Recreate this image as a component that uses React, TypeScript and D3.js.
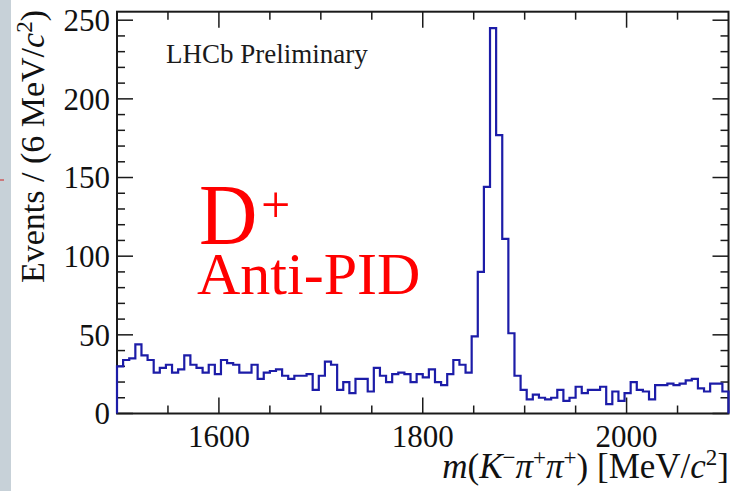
import React from "react";
import * as d3 from "d3";

// 100 bins of 6 MeV/c^2 between 1500 and 2100
const binLow = 1500;
const binWidth = 6;
const counts = [
  30, 34, 35, 44, 37, 34, 26, 29, 31, 26,
  28, 37, 31, 29, 26, 31, 25, 34, 32, 31,
  26, 26, 31, 22, 26, 27, 28, 24, 22, 24,
  24, 25, 15, 24, 33, 31, 15, 20, 13, 22,
  22, 14, 29, 24, 20, 25, 26, 25, 20, 25,
  23, 28, 20, 18, 25, 34, 31, 26, 49, 90,
  144, 245, 177, 111, 51, 24, 15, 9, 12, 10,
  9, 10, 15, 8, 10, 17, 13, 15, 15, 17,
  6, 14, 8, 13, 20, 15, 14, 9, 18, 18,
  19, 18, 19, 21, 22, 16, 14, 19, 19, 14,
];
const yMajorTicks = [0, 50, 100, 150, 200, 250];
const xMajorTicks = [1600, 1800, 2000];

const W = 739;
const H = 491;
const serif = "'Liberation Serif', 'Times New Roman', Times, serif";

export default function App() {
  const x = d3.scaleLinear().domain([1500, 2100]).range([117, 728.5]);
  const y = d3.scaleLinear().domain([0, 255.4]).range([413.5, 11.7]);

  const pts: [number, number][] = [[x(binLow), y(0)]];
  counts.forEach((c, i) => {
    const lo = binLow + i * binWidth;
    pts.push([x(lo), y(c)]);
    pts.push([x(lo + binWidth), y(c)]);
  });
  pts.push([x(binLow + counts.length * binWidth), y(0)]);
  const histPath = d3.line()(pts) as string;

  const xMinor = d3.range(1550, 2100, 50).filter((v) => !xMajorTicks.includes(v));
  const yMinor = d3.range(10, 255, 10).filter((v) => !yMajorTicks.includes(v));

  const [x0, x1] = x.range();
  const [y0, y1] = y.range();
  const frame = "#1a1a1a";
  const major = 16;
  const minor = 8;

  return (
    <div style={{ position: "absolute", left: 0, top: 0, width: W, height: H, background: "#fff" }}>
      <svg width={W} height={H} style={{ display: "block" }}>
        <rect x={0} y={0} width={W} height={H} fill="#fff" />
        <rect x={0} y={0} width={11} height={H} fill="#c7d1d8" />
        <line x1={0} x2={4} y1={180} y2={180} stroke="#d02020" strokeWidth={1} />

        {/* ticks */}
        <g stroke={frame} strokeWidth={1.5}>
          {xMajorTicks.map((v) => (
            <g key={"xm" + v}>
              <line x1={x(v)} x2={x(v)} y1={y0} y2={y0 - major} />
              <line x1={x(v)} x2={x(v)} y1={y1} y2={y1 + major} />
            </g>
          ))}
          {xMinor.map((v) => (
            <g key={"xn" + v}>
              <line x1={x(v)} x2={x(v)} y1={y0} y2={y0 - minor} />
              <line x1={x(v)} x2={x(v)} y1={y1} y2={y1 + minor} />
            </g>
          ))}
          {yMajorTicks.map((v) => (
            <g key={"ym" + v}>
              <line x1={x0} x2={x0 + major} y1={y(v)} y2={y(v)} />
              <line x1={x1} x2={x1 - major} y1={y(v)} y2={y(v)} />
            </g>
          ))}
          {yMinor.map((v) => (
            <g key={"yn" + v}>
              <line x1={x0} x2={x0 + minor} y1={y(v)} y2={y(v)} />
              <line x1={x1} x2={x1 - minor} y1={y(v)} y2={y(v)} />
            </g>
          ))}
        </g>
        <rect x={x0} y={y1} width={x1 - x0} height={y0 - y1} fill="none" stroke={frame} strokeWidth={2} />

        <path d={histPath} fill="none" stroke="#1c1ca8" strokeWidth={2.2} strokeLinejoin="miter" />

        {/* tick labels */}
        <g fontFamily={serif} fontSize={31} fill="#111">
          {yMajorTicks.map((v) => (
            <text key={"yl" + v} x={110} y={y(v)} dy="0.35em" textAnchor="end">
              {v}
            </text>
          ))}
          {xMajorTicks.map((v) => (
            <text key={"xl" + v} x={x(v)} y={447} textAnchor="middle">
              {v}
            </text>
          ))}
        </g>

        {/* axis titles */}
        <text
          transform={`translate(44,10) rotate(-90)`}
          textAnchor="end"
          fontFamily={serif}
          fontSize={34}
          fill="#111"
        >
          Events / (6 MeV/<tspan fontStyle="italic">c</tspan>
          <tspan fontSize={23} dy={-12}>2</tspan>
          <tspan dy={12}>)</tspan>
        </text>
        <text x={729} y={478} textAnchor="end" fontFamily={serif} fontSize={35} fill="#111">
          <tspan fontStyle="italic">m</tspan>(<tspan fontStyle="italic">K</tspan>
          <tspan fontSize={23} dy={-13}>−</tspan>
          <tspan fontStyle="italic" dy={13}>π</tspan>
          <tspan fontSize={23} dy={-13}>+</tspan>
          <tspan fontStyle="italic" dy={13}>π</tspan>
          <tspan fontSize={23} dy={-13}>+</tspan>
          <tspan dy={13}>) [MeV/</tspan>
          <tspan fontStyle="italic">c</tspan>
          <tspan fontSize={23} dy={-13}>2</tspan>
          <tspan dy={13}>]</tspan>
        </text>

        <text x={166} y={62.5} fontFamily={serif} fontSize={27} fill="#1a1a1a">
          LHCb Preliminary
        </text>

        <g fill="#ff0000" fontFamily={serif}>
          <text transform="translate(199,244) scale(0.94,1)" fontSize={86}>
            D
          </text>
          <text x={261} y={222} fontSize={52}>
            +
          </text>
          <text x={197} y={294} fontSize={60}>
            Anti-PID
          </text>
        </g>
      </svg>
    </div>
  );
}
